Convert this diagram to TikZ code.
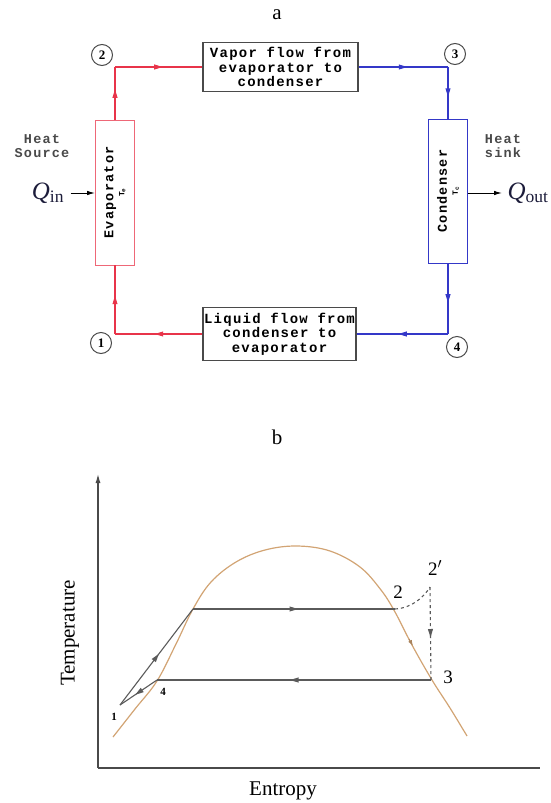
\documentclass[tikz,border=0pt]{standalone}
\usepackage{fontspec}
\setmainfont{Liberation Serif}
\newfontfamily\flowfont[LetterSpace=9]{Liberation Mono}
\usetikzlibrary{arrows.meta, positioning, decorations.markings}
\definecolor{LoopRed}{HTML}{E8344A}
\definecolor{LoopBlue}{HTML}{3438C8}
\definecolor{FrameGray}{HTML}{4A4A4A}
\definecolor{DomeTan}{HTML}{D2A474}
\definecolor{CycleGray}{HTML}{5A5A5A}
\definecolor{InkNavy}{HTML}{1C1C3A}

\begin{document}
\begin{tikzpicture}[x=1pt, y=-1pt,
    flowbox/.style={draw=FrameGray, line width=1.1pt, inner sep=0pt, align=center,
        font=\flowfont\bfseries\fontsize{14}{14.5}\selectfont},
    unitbox/.style={line width=0.9pt, inner sep=0pt, rotate=90, align=center,
        minimum height=39pt, font=\flowfont\bfseries\fontsize{13.5}{13}\selectfont},
    statenum/.style={circle, draw=FrameGray, line width=1pt, minimum size=21pt, inner sep=0pt,
        font=\bfseries\fontsize{13}{13}\selectfont},
    sidetext/.style={align=center, text=FrameGray, font=\flowfont\bfseries\fontsize{13.5}{14}\selectfont},
    heatq/.style={text=InkNavy, font=\fontsize{25}{25}\selectfont},
    flowmid/.style={postaction={decorate, decoration={markings,
        mark=at position .5 with {\fill (-4.5pt,-2.6pt) -- (4pt,0pt) -- (-4.5pt,2.6pt) -- cycle;}}}},
    redline/.style={LoopRed, line width=1.1pt, flowmid},
    blueline/.style={LoopBlue, line width=1.1pt, flowmid},
    heatarrow/.style={-{Latex[length=8pt, width=4.5pt]}, line width=1pt, black},
    cycleline/.style={CycleGray, line width=1.1pt, flowmid},
    axisline/.style={FrameGray, line width=1.1pt},
    plotlabel/.style={font=\fontsize{21}{21}\selectfont},
    statelabel/.style={font=\fontsize{19}{19}\selectfont},
    smalllabel/.style={font=\bfseries\fontsize{11}{11}\selectfont}
]
\useasboundingbox (0,0) rectangle (550,803);

% Loop schematic
\node[plotlabel] (capa) at (277,15) {a};

\node[flowbox, minimum width=155pt, minimum height=49pt] (vapor) at (280.5,67)
    {Vapor flow from\\evaporator to\\condenser};
\node[flowbox, minimum width=153pt, minimum height=53pt] (liquid) at (279.5,334)
    {Liquid flow from\\condenser to\\evaporator};
\node[unitbox, draw=LoopRed!75, minimum width=145pt] (evap) at (115,192.5)
    {Evaporator\\[-2pt]{\fontsize{8}{8}\selectfont T\textsubscript{e}}};
\node[unitbox, draw=LoopBlue, minimum width=144pt] (cond) at (448,191)
    {Condenser\\[-2pt]{\fontsize{8}{8}\selectfont T\textsubscript{c}}};

\coordinate (c2) at (115,67);
\coordinate (c3) at (448,67);
\coordinate (c4) at (448,334);
\coordinate (c1) at (115,334);

\draw[redline] (evap) -- (c2);
\draw[redline] (c2) -- (vapor);
\draw[blueline] (vapor) -- (c3);
\draw[blueline] (c3) -- (cond);
\draw[blueline] (cond) -- (c4);
\draw[blueline] (c4) -- (liquid);
\draw[redline] (liquid) -- (c1);
\draw[redline] (c1) -- (evap);

\node[statenum] (n2) at (102,55) {2};
\node[statenum] (n3) at (455,54) {3};
\node[statenum] (n1) at (101,343) {1};
\node[statenum] (n4) at (457,347) {4};

\node[sidetext] (source) at (42,146) {Heat\\Source};
\node[sidetext] (sink) at (503,146) {Heat\\sink};

\node[heatq] (qin) at (48,193) {\textit{Q}\textsubscript{in}};
\node[heatq] (qout) at (528,193) {\textit{Q}\textsubscript{out}};
\draw[heatarrow] ([xshift=3pt]qin.east) -- (qin.east -| evap.north);
\draw[heatarrow] (qout.west -| cond.south) -- ([xshift=-2pt]qout.west);

% T-s diagram
\node[plotlabel] (capb) at (277,437) {b};

\coordinate (origin) at (98,768);
\coordinate (ytop) at (98,474);
\coordinate (xend) at (540,768);
\draw[axisline, -{Latex[length=9pt, width=5pt]}] (origin) -- (ytop);
\draw[axisline] (origin) -- (xend);
\node[plotlabel, rotate=90] (tlabel) at (70,633) {Temperature};
\node[plotlabel] (slabel) at (283,791) {Entropy};

\draw[DomeTan, line width=1.2pt] plot[smooth, tension=0.6] coordinates {
    (113,737) (135,709) (157,681) (176,644) (193,609) (211,582) (236,562) (265,550)
    (297,546) (330,551) (360,567) (381,590) (395,612) (412,645) (432,680) (450,708) (467,736)};
\draw[DomeTan!80!black, -{Latex[length=6pt, width=4pt]}, line width=0.8pt] (409,639) -- (413,646);

\coordinate (p1) at (120,705);
\coordinate (sl) at (193,609);
\coordinate (p2) at (395,609);
\coordinate (p2p) at (430,587);
\coordinate (p3) at (431,680);
\coordinate (p4) at (157,680);

\draw[cycleline] (p1) -- (sl);
\draw[cycleline] (sl) -- (p2);
\draw[CycleGray, line width=1.1pt, dashed] (p2) .. controls (412,608) and (424,597) .. (p2p);
\draw[cycleline, dashed] (p2p) -- (p3);
\draw[cycleline] (p3) -- (p4);
\draw[cycleline] (p4) -- (p1);

\node[smalllabel] (l1) at (114,717) {1};
\node[smalllabel] (l4) at (163,692) {4};
\node[statelabel] (l2) at (398,592) {2};
\node[statelabel] (l2p) at (435,568) {2$'$};
\node[statelabel] (l3) at (448,677) {3};
\end{tikzpicture}
\end{document}
